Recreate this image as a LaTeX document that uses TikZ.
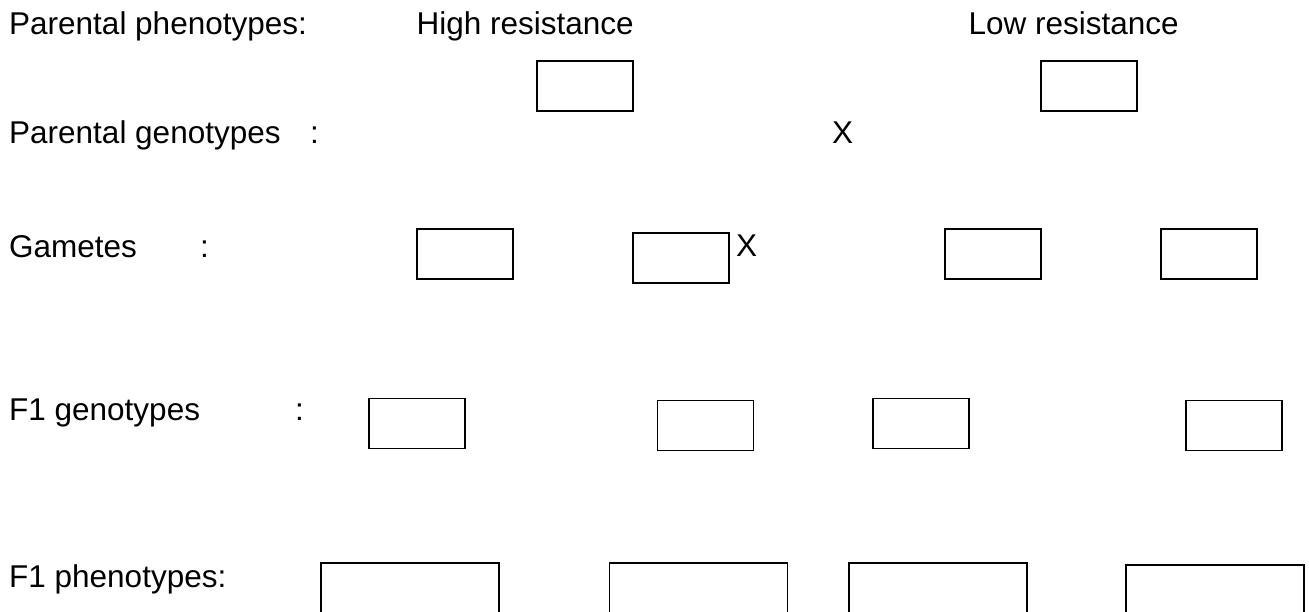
\documentclass[tikz,border=0pt]{standalone}
\usepackage{fontspec}
\setmainfont{Liberation Sans}
\begin{document}
\begin{tikzpicture}[x=1pt,y=-1pt,
  lbl/.style={anchor=base west, inner sep=0pt, font=\fontsize{31.5}{36}\selectfont},
  cell/.style={draw, line width=1.6pt, inner sep=0pt, minimum width=96pt, minimum height=50pt},
  widecell/.style={cell, minimum width=178pt, minimum height=90pt}]
\clip (0,0) rectangle (1309,611);
\fill[white] (0,0) rectangle (1309,611);

% row labels
\node[lbl] (rowpp) at (9,34) {Parental phenotypes:};
\node[lbl] (high) at (416.5,34) {High resistance};
\node[lbl] (low) at (968.5,34) {Low resistance};

\node[lbl] (rowpg) at (9,143) {Parental genotypes};
\node[lbl] (colpg) at (310,143) {:};
\node[lbl] (crosspg) at (832,143) {X};

\node[lbl] (rowgam) at (9,257) {Gametes};
\node[lbl] (colgam) at (200,257) {:};
\node[lbl] (crossgam) at (736,256) {X};

\node[lbl] (rowfg) at (9,420) {F1 genotypes};
\node[lbl] (colfg) at (295,420) {:};

\node[lbl] (rowfp) at (9,587) {F1 phenotypes:};

% parental genotype boxes
\node[cell] (pg1) at (585,86) {};
\node[cell] (pg2) at (1089,86) {};

% gamete boxes
\node[cell] (g1) at (465,254) {};
\node[cell] (g2) at (681,258) {};
\node[cell] (g3) at (993,254) {};
\node[cell] (g4) at (1209,254) {};

% F1 genotype boxes
\node[cell] (fg1) at (417,423.5) {};
\node[cell] (fg2) at (705.5,425.5) {};
\node[cell] (fg3) at (921,423.5) {};
\node[cell] (fg4) at (1234,425.5) {};

% F1 phenotype boxes (run past the lower edge)
\node[widecell] (fp1) at (410,608) {};
\node[widecell] (fp2) at (698.5,608) {};
\node[widecell] (fp3) at (938,608) {};
\node[widecell] (fp4) at (1215,610) {};
\end{tikzpicture}
\end{document}
